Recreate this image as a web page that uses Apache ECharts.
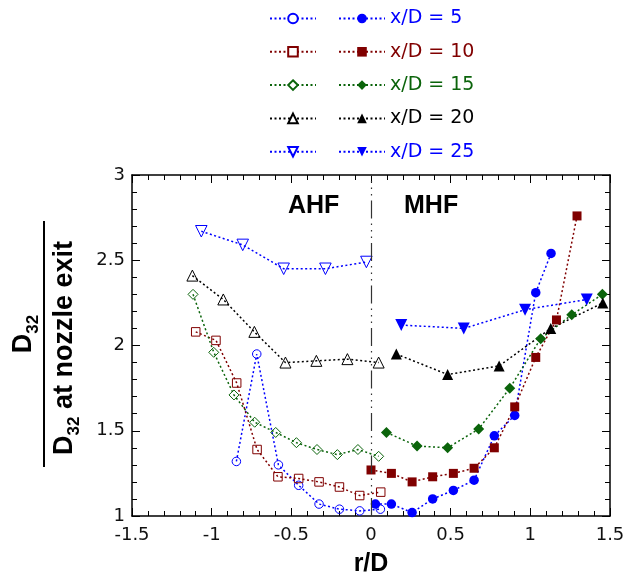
<!DOCTYPE html>
<html>
<head>
<meta charset="utf-8">
<script src="https://cdn.jsdelivr.net/npm/echarts@6/dist/echarts.min.js"></script>
<style>
  html, body { margin: 0; padding: 0; background: #fff; overflow: hidden; }
  #chart { width: 638px; height: 574px; }
</style>
</head>
<body>
<div id="chart"></div>
<script>
// Radial profiles of normalised Sauter mean diameter, r/D vs D32 / D32(nozzle exit)
// AHF side (open markers) and MHF side (filled markers) for each x/D station.

const xTicks = [-1.5, -1, -0.5, 0, 0.5, 1, 1.5];
const yTicks = [1, 1.5, 2, 2.5, 3];

const stations = ['x/D = 5', 'x/D = 10', 'x/D = 15', 'x/D = 20', 'x/D = 25'];

// x/D = 5
const r5Ahf = [-0.845, -0.717, -0.581, -0.454, -0.326, -0.198, -0.071, 0.059];
const d5Ahf = [1.32, 1.95, 1.30, 1.18, 1.07, 1.04, 1.03, 1.04];
const r5Mhf = [0.028, 0.128, 0.258, 0.387, 0.517, 0.647, 0.774, 0.902, 1.034, 1.13];
const d5Mhf = [1.07, 1.07, 1.02, 1.10, 1.15, 1.21, 1.47, 1.59, 2.31, 2.54];

// x/D = 10
const r10Ahf = [-1.10, -0.973, -0.843, -0.715, -0.584, -0.454, -0.326, -0.198, -0.071, 0.061];
const d10Ahf = [2.08, 2.03, 1.78, 1.39, 1.23, 1.22, 1.20, 1.17, 1.12, 1.14];
const r10Mhf = [0.0, 0.128, 0.258, 0.387, 0.517, 0.647, 0.774, 0.902, 1.034, 1.164, 1.293];
const d10Mhf = [1.27, 1.25, 1.20, 1.23, 1.25, 1.28, 1.40, 1.64, 1.93, 2.15, 2.76];

// x/D = 15
const r15Ahf = [-1.117, -0.987, -0.86, -0.73, -0.598, -0.468, -0.339, -0.211, -0.082, 0.048];
const d15Ahf = [2.30, 1.96, 1.71, 1.55, 1.49, 1.43, 1.39, 1.36, 1.39, 1.35];
const r15Mhf = [0.097, 0.289, 0.481, 0.676, 0.871, 1.065, 1.26, 1.452];
const d15Mhf = [1.49, 1.41, 1.40, 1.51, 1.75, 2.04, 2.18, 2.30];

// x/D = 20
const r20Ahf = [-1.121, -0.927, -0.732, -0.537, -0.343, -0.148, 0.048];
const d20Ahf = [2.41, 2.27, 2.08, 1.90, 1.91, 1.92, 1.90];
const r20Mhf = [0.159, 0.481, 0.804, 1.128, 1.455];
const d20Mhf = [1.95, 1.83, 1.88, 2.10, 2.25];

// x/D = 25
const r25Ahf = [-1.065, -0.805, -0.548, -0.286, -0.029];
const d25Ahf = [2.67, 2.59, 2.45, 2.45, 2.49];
const r25Mhf = [0.19, 0.582, 0.967, 1.354];
const d25Mhf = [2.12, 2.10, 2.21, 2.27];

const colors = ['#0000ff', '#800000', '#0b640b', '#000000', '#0000ff'];
const symbols = ['circle', 'rect', 'diamond', 'triangle', 'triangle'];
const rotations = [0, 0, 0, 0, 180];
const openSizes = [8.5, 8.5, 10, 11, 11.5];
const filledSizes = [9.5, 9, 11, 11, 12];

const ahfR = [r5Ahf, r10Ahf, r15Ahf, r20Ahf, r25Ahf];
const ahfD = [d5Ahf, d10Ahf, d15Ahf, d20Ahf, d25Ahf];
const mhfR = [r5Mhf, r10Mhf, r15Mhf, r20Mhf, r25Mhf];
const mhfD = [d5Mhf, d10Mhf, d15Mhf, d20Mhf, d25Mhf];

const pairs = (xs, ys) => xs.map((x, i) => [x, ys[i]]);
const dotted = [2, 2.5];

const series = [];
stations.forEach((name, k) => {
  series.push({
    name: name + ' AHF',
    type: 'line',
    data: pairs(ahfR[k], ahfD[k]),
    symbol: symbols[k],
    symbolRotate: rotations[k],
    symbolSize: openSizes[k],
    lineStyle: { color: colors[k], width: 1.5, type: dotted },
    itemStyle: { color: 'rgba(255,255,255,0)', borderColor: colors[k], borderWidth: 1 },
    emphasis: { disabled: true },
    animation: false
  });
});
stations.forEach((name, k) => {
  series.push({
    name: name,
    type: 'line',
    data: pairs(mhfR[k], mhfD[k]),
    symbol: symbols[k],
    symbolRotate: rotations[k],
    symbolSize: filledSizes[k],
    lineStyle: { color: colors[k], width: 1.5, type: dotted },
    itemStyle: { color: colors[k], borderWidth: 0 },
    emphasis: { disabled: true },
    animation: false
  });
});

// centreline r/D = 0 separating the two halves
series[0].markLine = {
  silent: true,
  symbol: ['none', 'none'],
  label: { show: false },
  lineStyle: { color: '#333', width: 1.2, type: [18, 5, 1.5, 5, 1.5, 5, 1.5, 5] },
  data: [{ xAxis: 0 }],
  animation: false
};

const tickFont = { fontFamily: 'DejaVu Sans', fontSize: 18, color: '#111' };

const axisCommon = (isX, pos, showLabels, ticks) => ({
  type: 'value',
  position: pos,
  min: ticks[0],
  max: ticks[ticks.length - 1],
  interval: 0.5,
  axisLine: { show: true, onZero: false, lineStyle: { color: '#000', width: 1.5 } },
  axisTick: { show: true, inside: true, length: 8, lineStyle: { color: '#000', width: 1 } },
  minorTick: { show: true, splitNumber: 5, length: 5, lineStyle: { color: '#000', width: 1 } },
  splitLine: { show: false },
  minorSplitLine: { show: false },
  axisLabel: Object.assign({ show: showLabels, margin: isX ? 10 : 7 }, tickFont)
});

const legendRows = {
  top: 8.5, padding: 0, itemWidth: 46, itemHeight: 12, itemGap: 13.3,
  orient: 'vertical', selectedMode: false
};

const chart = echarts.init(document.getElementById('chart'), null, { renderer: 'canvas', width: 638, height: 574 });
chart.setOption({
  backgroundColor: '#fff',
  animation: false,
  grid: { left: 132, right: 28, top: 175, bottom: 58, containLabel: false, outerBoundsMode: 'none' },
  xAxis: [
    Object.assign(axisCommon(true, 'bottom', true, xTicks), {
      name: 'r/D', nameLocation: 'middle', nameGap: 36,
      nameTextStyle: { fontFamily: 'Liberation Sans', fontWeight: 'bold', fontSize: 25, color: '#000' }
    }),
    axisCommon(true, 'top', false, xTicks)
  ],
  yAxis: [
    axisCommon(false, 'left', true, yTicks),
    axisCommon(false, 'right', false, yTicks)
  ],
  legend: [
    Object.assign({}, legendRows, {
      left: 269,
      formatter: () => ' ',
      textStyle: { fontFamily: 'DejaVu Sans', fontSize: 18, lineHeight: 20 },
      data: stations.map(s => ({ name: s + ' AHF', itemStyle: { color: '#fff' } }))
    }),
    Object.assign({}, legendRows, {
      left: 338,
      textStyle: { fontFamily: 'DejaVu Sans', fontSize: 19, lineHeight: 20 },
      data: stations.map((s, k) => ({ name: s, textStyle: { color: colors[k] } }))
    })
  ],
  graphic: [
    { type: 'text', left: 288, top: 194, silent: true,
      style: { text: 'AHF', font: 'bold 25px "Liberation Sans"', fill: '#000' } },
    { type: 'text', left: 404, top: 194, silent: true,
      style: { text: 'MHF', font: 'bold 25px "Liberation Sans"', fill: '#000' } },
    // y-axis title as a fraction: D32 / (D32 at nozzle exit)
    { type: 'line', silent: true,
      shape: { x1: 44, y1: 221, x2: 44, y2: 467 },
      style: { stroke: '#000', lineWidth: 2 } },
    { type: 'text', x: 24, y: 334, rotation: Math.PI / 2, silent: true,
      style: {
        text: '{b|D}{s|32}', align: 'center', verticalAlign: 'middle',
        rich: {
          b: { fontFamily: 'Liberation Sans', fontWeight: 'bold', fontSize: 27, lineHeight: 36, fill: '#000' },
          s: { fontFamily: 'Liberation Sans', fontWeight: 'bold', fontSize: 17, lineHeight: 17, verticalAlign: 'bottom', fill: '#000' }
        }
      } },
    { type: 'text', x: 65, y: 348, rotation: Math.PI / 2, silent: true,
      style: {
        text: '{b|D}{s|32}{b| at nozzle exit}', align: 'center', verticalAlign: 'middle',
        rich: {
          b: { fontFamily: 'Liberation Sans', fontWeight: 'bold', fontSize: 27, lineHeight: 36, fill: '#000' },
          s: { fontFamily: 'Liberation Sans', fontWeight: 'bold', fontSize: 17, lineHeight: 17, verticalAlign: 'bottom', fill: '#000' }
        }
      } }
  ],
  series: series
});
</script>
</body>
</html>
